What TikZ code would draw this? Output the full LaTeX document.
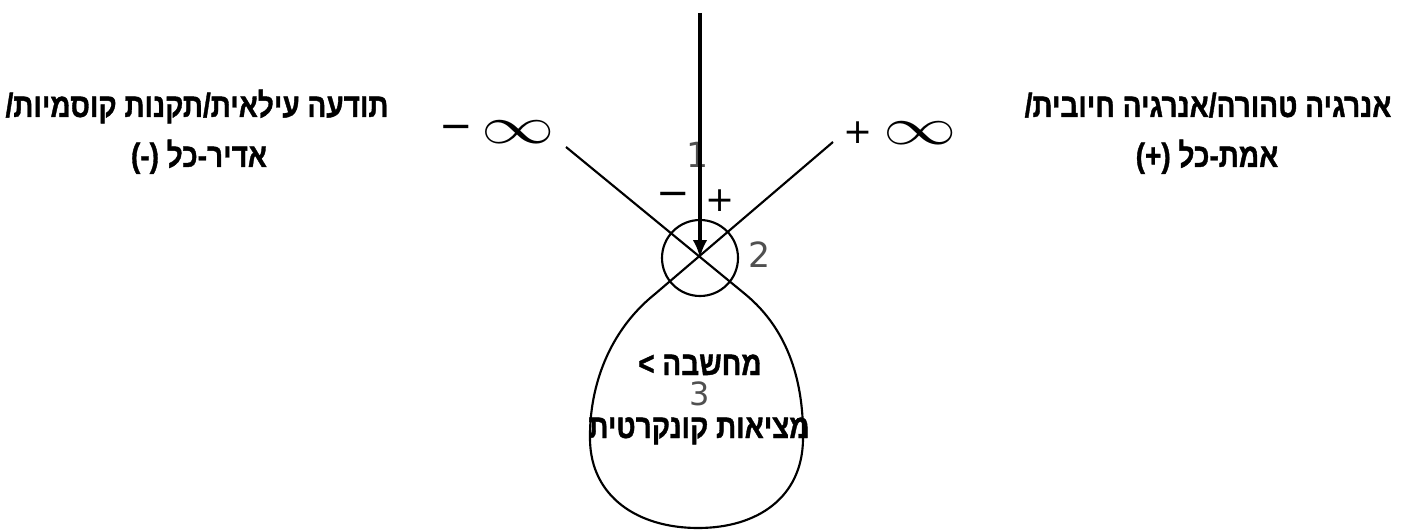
\documentclass[tikz,border=0pt]{standalone}
\usepackage{fontspec}
\setmainfont{Liberation Sans}
\newfontfamily\hebfont[Script=Hebrew,BoldFont={Liberation Sans Bold},BoldFeatures={FakeBold=1.2}]{Liberation Sans}
\newfontfamily\dvfont{DejaVu Sans}
\TeXXeTstate=1
\usetikzlibrary{arrows.meta}
\definecolor{lblgray}{RGB}{80,80,80}
\newcommand{\hebtxt}[1]{\scalebox{1}[1.2]{\hebfont\bfseries\fontsize{21}{25}\selectfont\beginR #1\endR}}
\begin{document}
\begin{tikzpicture}[x=0.75pt,y=-0.75pt,
  hebtext/.style={inner sep=0, anchor=base},
  numlbl/.style={text=lblgray, font=\dvfont\fontsize{26}{30}\selectfont, inner sep=0},
  minussym/.style={font=\dvfont\fontsize{30}{34}\selectfont, inner sep=0},
  plussym/.style={font=\dvfont\fontsize{26}{30}\selectfont, inner sep=0},
  infsym/.style={inner sep=0},
  curveline/.style={line width=1.6pt},
  mainarrow/.style={line width=2.6pt, -{Latex[length=13.5pt,width=11pt]}}
]
\useasboundingbox (0,0) rectangle (1403,531);

% side texts
\node[hebtext] (lt1) at (197,117) {\hebtxt{תודעה עילאית/תקנות קוסמיות/}};
\node[hebtext] (lt2) at (199,167) {\hebtxt{אדיר-כל (-)}};
\node[hebtext] (rt1) at (1208,117) {\hebtxt{אנרגיה טהורה/אנרגיה חיובית/}};
\node[hebtext] (rt2) at (1207,167) {\hebtxt{אמת-כל (+)}};

% infinity labels
\node[minussym] (mneg) at (456,132) {−};
\node[infsym] (ineg) at (518,132) {\resizebox{55pt}{17pt}{$\infty$}};
\node[plussym] (ppos) at (858,133) {+};
\node[infsym] (ipos) at (920,133) {\resizebox{55pt}{17pt}{$\infty$}};

% signs near circle
\node[minussym] (mc) at (673,199) {−};
\node[plussym] (pc) at (720,201) {+};

% numbers
\node[numlbl] (n1) at (698,155) {1};
\node[numlbl] (n2) at (760,255) {2};
\node[numlbl, font=\dvfont\fontsize{24}{28}\selectfont] (n3) at (700,394) {3};

% circle
\node[draw, circle, line width=1.6pt, minimum size=76pt*0.75, inner sep=0] (circ) at (700,258) {};

% crossing lines forming the drop
\coordinate (L) at (566,147);
\coordinate (R) at (833,142);
\coordinate (Lc) at (745,294);
\coordinate (Rc) at (655,294);
\draw[curveline] (L) -- (Lc)
  .. controls (790,331) and (804,385) .. (803,440)
  .. controls (802,497) and (758,528) .. (698,528)
  .. controls (638,528) and (591,497) .. (590,440)
  .. controls (589,385) and (610,330) .. (Rc) -- (R);

% texts in the drop
\node[hebtext] (d1) at (700,375) {\hebtxt{מחשבה >}};
\node[hebtext] (d2) at (699,438) {\hebtxt{מציאות קונקרטית}};

% main arrow
\coordinate (top) at (700,13);
\draw[mainarrow] (top) -- (circ.center);
\end{tikzpicture}
\end{document}
